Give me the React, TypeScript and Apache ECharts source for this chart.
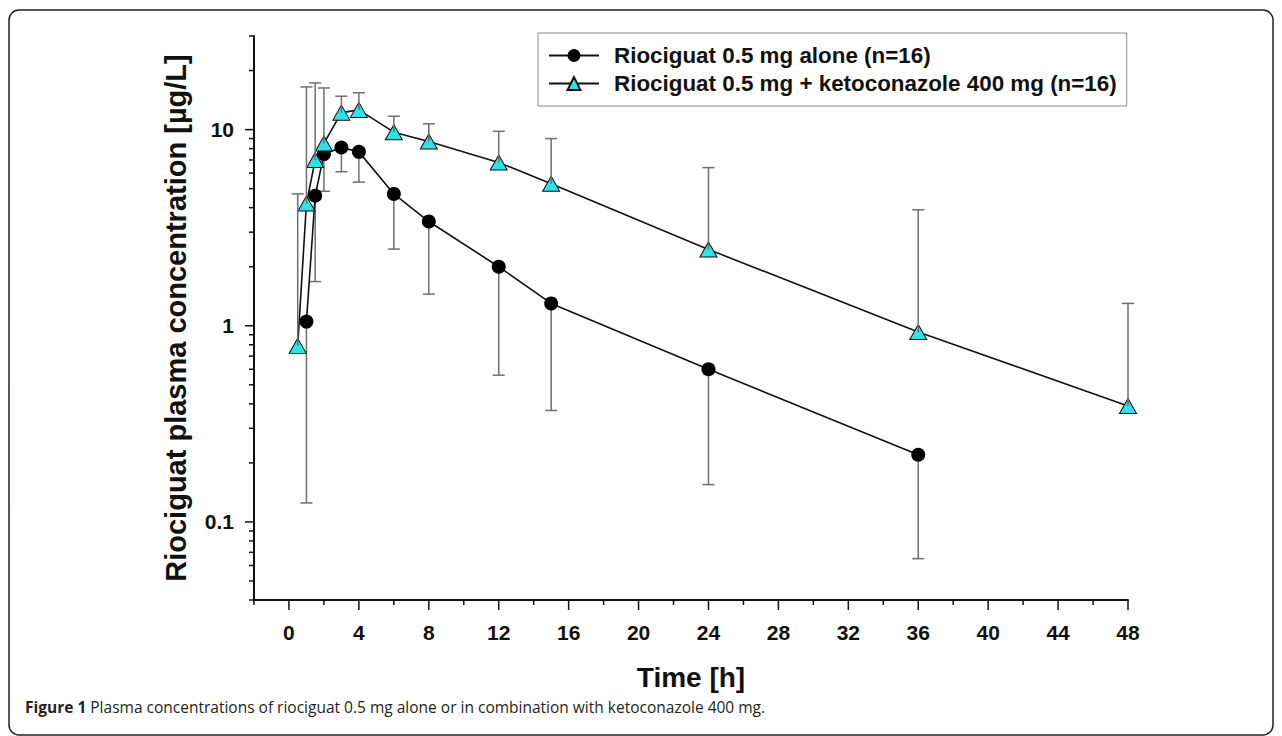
import React, { useEffect, useRef } from "react";
import * as echarts from "echarts";

// ---- data ----
const seriesNames = [
  "Riociguat 0.5 mg alone (n=16)",
  "Riociguat 0.5 mg + ketoconazole 400 mg (n=16)",
];
const aloneTimes = [1, 1.5, 2, 3, 4, 6, 8, 12, 15, 24, 36];
const aloneMean = [1.05, 4.6, 7.5, 8.1, 7.7, 4.7, 3.4, 2.0, 1.3, 0.6, 0.22];
const aloneLow = [0.125, 1.68, 4.85, 6.1, 5.4, 2.46, 1.45, 0.56, 0.37, 0.155, 0.065];

const ketoTimes = [0.5, 1, 1.5, 2, 3, 4, 6, 8, 12, 15, 24, 36, 48];
const ketoMean = [0.79, 4.2, 7.0, 8.5, 12.2, 12.6, 9.7, 8.7, 6.8, 5.3, 2.45, 0.93, 0.39];
const ketoHigh = [4.7, 16.5, 17.3, 16.3, 14.8, 15.4, 11.7, 10.7, 9.8, 9.0, 6.4, 3.9, 1.3];

const xMajorTicks = [0, 4, 8, 12, 16, 20, 24, 28, 32, 36, 40, 44, 48];
const xMinorTicks = [-2, 2, 6, 10, 14, 18, 22, 26, 30, 34, 38, 42, 46];
const yMajorTicks = [0.1, 1, 10];
const yTickLabels = ["0.1", "1", "10"];
const yMinorTicks = [
  0.04, 0.05, 0.06, 0.07, 0.08, 0.09,
  0.2, 0.3, 0.4, 0.5, 0.6, 0.7, 0.8, 0.9,
  2, 3, 4, 5, 6, 7, 8, 9,
  20, 30,
];

const xTitle = "Time [h]";
const yTitle = "Riociguat plasma concentration [µg/L]";
const captionBold = "Figure 1";
const captionText =
  "Plasma concentrations of riociguat 0.5 mg alone or in combination with ketoconazole 400 mg.";

const X_MIN = -2;
const X_MAX = 48;
const Y_MIN = 0.04;
const Y_MAX = 30;

const FONT = "'Liberation Sans', Arial, sans-serif";
const CYAN = "#2ee2e8";

export default function App() {
  const ref = useRef<HTMLDivElement>(null);

  useEffect(() => {
    if (!ref.current) return;
    const chart = echarts.init(ref.current, undefined, { renderer: "svg" });

    const yTickData = [
      ...yMajorTicks.map((v) => [X_MIN, v, 9]),
      ...yMinorTicks.map((v) => [X_MIN, v, 5]),
    ];
    const xTickData = [
      ...xMajorTicks.map((t) => [t, Y_MIN, 10]),
      ...xMinorTicks.map((t) => [t, Y_MIN, 5]),
    ];

    const errRender = (params: any, api: any) => {
      const p0 = api.coord([api.value(0), api.value(1)]);
      const p1 = api.coord([api.value(0), api.value(2)]);
      const st = { stroke: "#6e6e6e", lineWidth: 1.5 };
      return {
        type: "group",
        children: [
          { type: "line", shape: { x1: p0[0], y1: p0[1], x2: p1[0], y2: p1[1] }, style: st },
          { type: "line", shape: { x1: p1[0] - 6, y1: p1[1], x2: p1[0] + 6, y2: p1[1] }, style: st },
        ],
      };
    };

    const yTickRender = (params: any, api: any) => {
      const p = api.coord([api.value(0), api.value(1)]);
      const len = api.value(2);
      return {
        type: "line",
        shape: { x1: p[0] - len, y1: p[1], x2: p[0], y2: p[1] },
        style: { stroke: "#111", lineWidth: 1.5 },
      };
    };
    const xTickRender = (params: any, api: any) => {
      const p = api.coord([api.value(0), api.value(1)]);
      const len = api.value(2);
      return {
        type: "line",
        shape: { x1: p[0], y1: p[1], x2: p[0], y2: p[1] + len },
        style: { stroke: "#111", lineWidth: 1.5 },
      };
    };

    chart.setOption({
      animation: false,
      backgroundColor: "#fff",
      textStyle: { fontFamily: FONT },
      grid: { left: 254, right: 154, top: 36, bottom: 136, containLabel: false },
      legend: {
        data: seriesNames,
        orient: "vertical",
        left: 538,
        top: 33,
        padding: [10, 10, 10, 10],
        itemGap: 3,
        itemWidth: 50,
        itemHeight: 16,
        borderColor: "#8a8a8a",
        borderWidth: 1,
        textStyle: {
          fontFamily: FONT,
          fontSize: 22.4,
          fontWeight: "bold",
          color: "#111",
          padding: [0, 0, 0, 10],
          lineHeight: 25,
        },
      },
      xAxis: {
        type: "value",
        min: X_MIN,
        max: X_MAX,
        interval: 2,
        axisLine: { onZero: false, lineStyle: { color: "#111", width: 2 } },
        axisTick: { show: false },
        splitLine: { show: false },
        axisLabel: {
          margin: 22,
          fontSize: 21,
          fontWeight: "bold",
          color: "#111",
          fontFamily: FONT,
          formatter: (v: number) => (xMajorTicks.includes(v) ? String(v) : ""),
        },
        name: xTitle,
        nameLocation: "middle",
        nameGap: 63,
        nameTextStyle: { fontSize: 28, fontWeight: "bold", color: "#111", fontFamily: FONT },
      },
      yAxis: {
        type: "log",
        logBase: 10,
        min: Y_MIN,
        max: Y_MAX,
        axisLine: { show: true, onZero: false, lineStyle: { color: "#111", width: 2 } },
        axisTick: { show: false },
        splitLine: { show: false },
        minorTick: { show: false },
        axisLabel: {
          margin: 20,
          fontSize: 21,
          fontWeight: "bold",
          color: "#111",
          fontFamily: FONT,
          showMinLabel: false,
          showMaxLabel: false,
          formatter: (v: number) => {
            const i = yMajorTicks.findIndex(
              (t) => Math.abs(Math.log10(t) - Math.log10(v)) < 1e-6
            );
            return i >= 0 ? yTickLabels[i] : "";
          },
        },
        name: yTitle,
        nameLocation: "middle",
        nameGap: 64,
        nameTextStyle: { fontSize: 29, fontWeight: "bold", color: "#111", fontFamily: FONT },
      },
      series: [
        {
          type: "custom",
          name: "yticks",
          clip: false,
          silent: true,
          z: 5,
          renderItem: yTickRender,
          encode: { x: 0, y: 1 },
          data: yTickData,
        },
        {
          type: "custom",
          name: "xticks",
          clip: false,
          silent: true,
          z: 5,
          renderItem: xTickRender,
          encode: { x: 0, y: 1 },
          data: xTickData,
        },
        {
          type: "custom",
          name: "aloneErr",
          clip: false,
          z: 1,
          renderItem: errRender,
          encode: { x: 0, y: [1, 2] },
          data: aloneTimes.map((t, i) => [t, aloneMean[i], aloneLow[i]]),
        },
        {
          type: "custom",
          name: "ketoErr",
          clip: false,
          z: 6,
          renderItem: errRender,
          encode: { x: 0, y: [1, 2] },
          data: ketoTimes.map((t, i) => [t, ketoMean[i], ketoHigh[i]]),
        },
        {
          type: "line",
          name: seriesNames[0],
          z: 3,
          data: aloneTimes.map((t, i) => [t, aloneMean[i]]),
          symbol: "circle",
          symbolSize: 14,
          showAllSymbol: true,
          lineStyle: { color: "#111", width: 1.6 },
          itemStyle: { color: "#000", borderColor: "#000", borderWidth: 0 },
        },
        {
          type: "line",
          name: seriesNames[1],
          z: 4,
          data: ketoTimes.map((t, i) => [t, ketoMean[i]]),
          symbol: "triangle",
          symbolSize: [17, 15],
          showAllSymbol: true,
          lineStyle: { color: "#111", width: 1.6 },
          itemStyle: { color: CYAN, borderColor: "#111", borderWidth: 1 },
        },
      ],
      graphic: [
        {
          type: "rect",
          shape: { x: 9, y: 10, width: 1264, height: 725, r: 10 },
          style: { fill: "none", stroke: "#222", lineWidth: 1.5 },
          silent: true,
        },
        {
          type: "text",
          x: 25,
          y: 707,
          style: {
            text: "{b|" + captionBold + "} " + captionText,
            fontFamily: "'Open Sans', sans-serif",
            fontSize: 15.5,
            fill: "#231f20",
            verticalAlign: "middle",
            rich: {
              b: {
                fontFamily: "'Open Sans', sans-serif",
                fontSize: 15.5,
                fontWeight: "bold",
                fill: "#231f20",
              },
            },
          },
        },
      ],
    });

    return () => chart.dispose();
  }, []);

  return (
    <div
      ref={ref}
      style={{ position: "absolute", left: 0, top: 0, width: 1282, height: 736 }}
    />
  );
}
